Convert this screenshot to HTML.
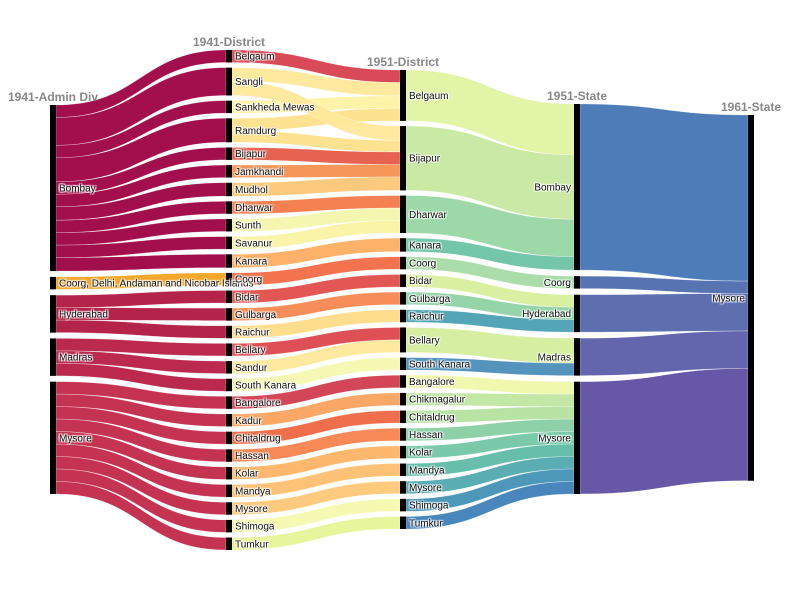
<!DOCTYPE html>
<html><head><meta charset="utf-8"><style>
body{margin:0;background:#fff}
svg text{font-family:"Liberation Sans",Arial,sans-serif}
.lbl{font-size:10px;fill:#111;text-shadow:1px 1px 1px #fff,-1px -1px 1px #fff,1px -1px 1px #fff,-1px 1px 1px #fff}
.ttl{font-size:12px;font-weight:bold;fill:#888}
</style></head><body>
<svg id="chart" width="805" height="600" viewBox="0 0 805 600" xmlns="http://www.w3.org/2000/svg">
<g id="links"></g><g id="nodes"></g><g id="labels"></g>
</svg>
<script>
// ---- data ----
const colTitles = ["1941-Admin Div","1941-District","1951-District","1951-State","1961-State"];
const col0 = ["Bombay","Coorg, Delhi, Andaman and Nicobar Islands","Hyderabad","Madras","Mysore"];
const col1 = ["Belgaum","Sangli","Sankheda Mewas","Ramdurg","Bijapur","Jamkhandi","Mudhol","Dharwar","Sunth","Savanur","Kanara","Coorg","Bidar","Gulbarga","Raichur","Bellary","Sandur","South Kanara","Bangalore","Kadur","Chitaldrug","Hassan","Kolar","Mandya","Mysore","Shimoga","Tumkur"];
const col2 = ["Belgaum","Bijapur","Dharwar","Kanara","Coorg","Bidar","Gulbarga","Raichur","Bellary","South Kanara","Bangalore","Chikmagalur","Chitaldrug","Hassan","Kolar","Mandya","Mysore","Shimoga","Tumkur"];
const col3 = ["Bombay","Coorg","Hyderabad","Madras","Mysore"];
const col4 = ["Mysore"];
const col1Values = [13,29,13,25,13,13,14,13,13,13,14,13,13,13,13,13,13,13,13,13,13,13,13,13,13,13,13];
const col1Parent = [0,0,0,0,0,0,0,0,0,0,0,1,2,2,2,3,3,3,4,4,4,4,4,4,4,4,4];
const midSrc = [0,1,2,3,1,3,4,5,6,7,8,9,10,11,12,13,14,15,16,17,18,19,20,21,22,23,24,25,26];
const midTgt = [0,0,0,0,1,1,1,1,1,2,2,2,3,4,5,6,7,8,8,9,10,11,12,13,14,15,16,17,18];
const midVal = [13,14,13,13,15,12,13,13,14,13,13,13,14,13,13,13,13,13,13,13,13,13,13,13,13,13,13,13,13];
const col2State = [0,0,0,0,1,2,2,2,3,3,4,4,4,4,4,4,4,4,4];

const colors0 = ["#9e0142","#f2a321","#b0173f","#b81d45","#c2284a"];
const colors1 = ["#d6404e","#fee89a","#fef3a4","#fde08b","#e55a48","#f6904f","#fdc776","#f47a4a","#f4f7ac","#f9f3a3","#fdae61","#f26c46","#e04d4a","#f78851","#fedb86","#dc474d","#fee99a","#f5f9b0","#d13c4f","#fba35e","#ee6743","#f7844e","#fdb466","#fdbf6f","#fec877","#f6f9ae","#e6f598"];
const colors2 = ["#e0f3a0","#c7e8a0","#98d6a4","#6cc3a5","#a5dba4","#d7ef9b","#8fd2a4","#4ba0b1","#d4ed9c","#4a8db8","#eef8a8","#c0e6a0","#b5e1a0","#88cfa4","#73c6a5","#5fbaa7","#50a9af","#4392b5","#3f7fb8"];
const colors3 = ["#4575b4","#4f6cae","#5567ab","#5b5ea8","#5e4fa2"];

// ---- layout constants ----
const colX = [50,226,400,574,748], NW = 6, S = 0.96;
const spans = [[105,494],[50,550],[70,529],[104,494],[115,485]];

const cols = [col0,col1,col2,col3,col4];
const links = [];
col1.forEach((n,i)=>links.push({c:0,s:col1Parent[i],t:i,v:col1Values[i]}));
midSrc.forEach((s,i)=>links.push({c:1,s:s,t:midTgt[i],v:midVal[i]}));
const v2 = col2.map((n,i)=>midVal.reduce((a,v,k)=>a+(midTgt[k]===i?v:0),0));
col2.forEach((n,i)=>links.push({c:2,s:i,t:col2State[i],v:v2[i]}));
const v3 = col3.map((n,j)=>v2.reduce((a,v,i)=>a+(col2State[i]===j?v:0),0));
col3.forEach((n,j)=>links.push({c:3,s:j,t:0,v:v3[j]}));

const vals = cols.map((c,ci)=>c.map((n,i)=>{
  let out=0,inn=0;
  links.forEach(l=>{ if(l.c===ci&&l.s===i) out+=l.v; if(l.c===ci-1&&l.t===i) inn+=l.v; });
  return Math.max(out,inn);
}));
const pos = cols.map((c,ci)=>{
  const tot = vals[ci].reduce((a,b)=>a+b,0)*S;
  const gap = c.length>1 ? (spans[ci][1]-spans[ci][0]-tot)/(c.length-1) : 0;
  let y = spans[ci][0];
  return c.map((n,i)=>{ const h=vals[ci][i]*S; const r={y0:y,y1:y+h}; y+=h+gap; return r; });
});
const colorOf = [colors0,colors1,colors2,colors3,["#000"]];
const NS="http://www.w3.org/2000/svg";
const gL=document.getElementById('links'), gN=document.getElementById('nodes'), gT=document.getElementById('labels');
const outOff = cols.map(c=>c.map(()=>0)), inOff = cols.map(c=>c.map(()=>0));
links.slice().sort((a,b)=>a.c-b.c||a.s-b.s||a.t-b.t).forEach(l=>{ l.sy=pos[l.c][l.s].y0+outOff[l.c][l.s]; outOff[l.c][l.s]+=l.v*S; });
links.slice().sort((a,b)=>a.c-b.c||a.t-b.t||a.s-b.s).forEach(l=>{ l.ty=pos[l.c+1][l.t].y0+inOff[l.c+1][l.t]; inOff[l.c+1][l.t]+=l.v*S; });
links.forEach(l=>{
  const x0=colX[l.c]+NW, x1=colX[l.c+1], xm=(x0+x1)/2, h=l.v*S;
  const p=document.createElementNS(NS,'path');
  p.setAttribute('d',`M${x0},${l.sy}C${xm},${l.sy} ${xm},${l.ty} ${x1},${l.ty}L${x1},${l.ty+h}C${xm},${l.ty+h} ${xm},${l.sy+h} ${x0},${l.sy+h}Z`);
  p.setAttribute('fill',colorOf[l.c][l.s]);
  p.setAttribute('fill-opacity','0.95');
  p.setAttribute('stroke','#fff');p.setAttribute('stroke-width','0.5');p.setAttribute('stroke-opacity','0.5');
  
  
  gL.appendChild(p);
});
cols.forEach((c,ci)=>{
  c.forEach((n,i)=>{
    const r=document.createElementNS(NS,'rect'), P=pos[ci][i];
    r.setAttribute('x',colX[ci]);r.setAttribute('y',P.y0);r.setAttribute('width',NW);r.setAttribute('height',P.y1-P.y0);r.setAttribute('fill','#000');
    
    
    gN.appendChild(r);
    const t=document.createElementNS(NS,'text');
    const right=ci>=3;
    t.setAttribute('x',right?colX[ci]-3:colX[ci]+NW+3);
    t.setAttribute('y',(P.y0+P.y1)/2+3.5);
    t.setAttribute('text-anchor',right?'end':'start');
    t.setAttribute('class','lbl');
    
    
    t.textContent=n; gT.appendChild(t);
  });
  const tt=document.createElementNS(NS,'text');
  tt.setAttribute('x',colX[ci]+NW/2);tt.setAttribute('y',pos[ci][0].y0-4);
  tt.setAttribute('text-anchor','middle');tt.setAttribute('class','ttl');
  
  
  tt.textContent=colTitles[ci]; gT.appendChild(tt);
});
</script>
</body></html>
